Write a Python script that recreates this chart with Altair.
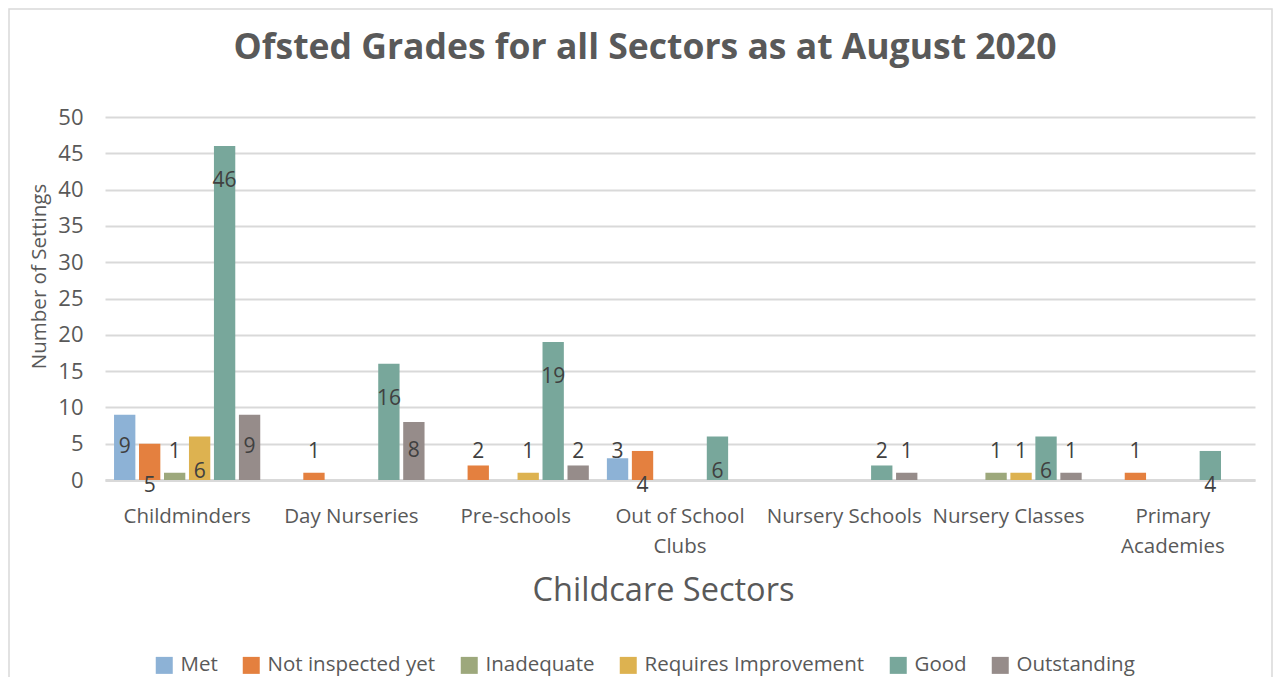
import altair as alt
import pandas as pd

title_text = "Ofsted Grades for all Sectors as at August 2020"
sectors = ["Childminders", "Day Nurseries", "Pre-schools", "Out of School Clubs",
           "Nursery Schools", "Nursery Classes", "Primary Academies"]
grades = ["Met", "Not inspected yet", "Inadequate", "Requires Improvement", "Good", "Outstanding"]
colors = ["#8DB2D6", "#E4803F", "#9DA87C", "#DDB250", "#78A79B", "#968C8A"]

met = [9, 0, 0, 3, 0, 0, 0]
not_inspected = [5, 1, 2, 4, 0, 0, 1]
inadequate = [1, 0, 0, 0, 0, 1, 0]
requires_improvement = [6, 0, 1, 0, 0, 1, 0]
good = [46, 16, 19, 6, 2, 6, 4]
outstanding = [9, 8, 2, 0, 1, 1, 0]
series = [met, not_inspected, inadequate, requires_improvement, good, outstanding]

# data-label placement as in the original (c=centre, o=above, ie=inside end, ib=inside base, b=below axis)
placements = [
    ["c", "", "", "o", "", "", ""],
    ["b", "o", "o", "b", "", "", "o"],
    ["o", "", "", "", "", "o", ""],
    ["ib", "", "o", "", "", "o", ""],
    ["ie", "ie", "ie", "ib", "o", "ib", "b"],
    ["c", "c", "o", "", "o", "o", ""],
]

rows = []
for g, vals, places in zip(grades, series, placements):
    for s, v, p in zip(sectors, vals, places):
        if v:
            rows.append({"sector": s, "grade": g, "value": v, "place": p})
df = pd.DataFrame(rows)

FONT = "Open Sans"
GREY = "#595959"

x_axis = alt.Axis(
    title="Childcare Sectors", labelAngle=0, ticks=False,
    domainColor="#D9D9D9", domainWidth=3,
    labelFontSize=20.5, labelColor=GREY, labelFont=FONT, labelPadding=26,
    labelLineHeight=30, labelLimit=300,
    labelExpr="datum.value == 'Out of School Clubs' ? ['Out of School', 'Clubs'] : "
              "datum.value == 'Primary Academies' ? ['Primary', 'Academies'] : datum.label",
    titleFontSize=32.5, titleFontWeight="normal", titleColor=GREY, titleFont=FONT,
    titlePadding=18, titleX=558, titleAlign="center",
)
y_axis = alt.Axis(
    title="Number of Settings", values=list(range(0, 55, 5)), labelOverlap=False,
    domain=False, ticks=False, grid=True, gridColor="#D9D9D9", gridWidth=2,
    labelFontSize=22, labelColor=GREY, labelFont=FONT, labelPadding=22,
    titleFontSize=20.5, titleFontWeight="normal", titleColor=GREY, titleFont=FONT,
    titlePadding=8, titleY=159,
)
x_scale = alt.Scale(paddingInner=0.11, paddingOuter=0.055)
y_scale = alt.Scale(domain=[0, 50])
xoff = alt.XOffset("grade:N", sort=grades, scale=alt.Scale(paddingInner=0.146))

bars = alt.Chart(df).mark_bar().encode(
    x=alt.X("sector:N", sort=sectors, scale=x_scale, axis=x_axis),
    xOffset=xoff,
    y=alt.Y("value:Q", scale=y_scale, axis=y_axis),
    color=alt.Color(
        "grade:N", sort=grades, scale=alt.Scale(domain=grades, range=colors),
        legend=alt.Legend(
            title=None, orient="none", legendX=49, legendY=538, direction="horizontal",
            symbolType="square", symbolSize=289, symbolStrokeWidth=0,
            labelFontSize=20.5, labelColor=GREY, labelFont=FONT, labelLimit=400,
            columnPadding=23, labelOffset=6,
        ),
    ),
)

labels = alt.Chart(df).transform_calculate(
    ly="datum.place == 'c' ? datum.value / 2 : datum.place == 'o' ? 3.9 : "
       "datum.place == 'ie' ? datum.value - 4.8 : datum.place == 'ib' ? 1.15 : -0.85"
).mark_text(fontSize=21, font=FONT, color="#404040", baseline="middle").encode(
    x=alt.X("sector:N", sort=sectors, scale=x_scale, axis=x_axis),
    xOffset=xoff,
    y=alt.Y("ly:Q", scale=y_scale, axis=y_axis),
    text=alt.Text("value:Q"),
)

frame = pd.DataFrame({"title": [title_text]})
border = alt.Chart(frame).mark_rect(
    fillOpacity=0, stroke="#D9D9D9", strokeWidth=1.5
).encode(
    x=alt.value(-96), x2=alt.value(1167), y=alt.value(-108), y2=alt.value(580)
)
title = alt.Chart(frame).mark_text(
    fontSize=35.5, fontWeight="bold", font=FONT, color=GREY, align="center", baseline="middle"
).encode(
    x=alt.value(540), y=alt.value(-69), text="title:N"
)

chart = alt.layer(border, title, bars, labels).properties(
    width=1150, height=363,
    autosize=alt.AutoSizeParams(type="none"),
    padding={"left": 97, "top": 109, "right": 20, "bottom": 197},
).configure(background="white", view=alt.ViewConfig(strokeWidth=0, stroke="transparent"))

chart.save("out.html", embed_options={"renderer": "svg", "actions": False})
